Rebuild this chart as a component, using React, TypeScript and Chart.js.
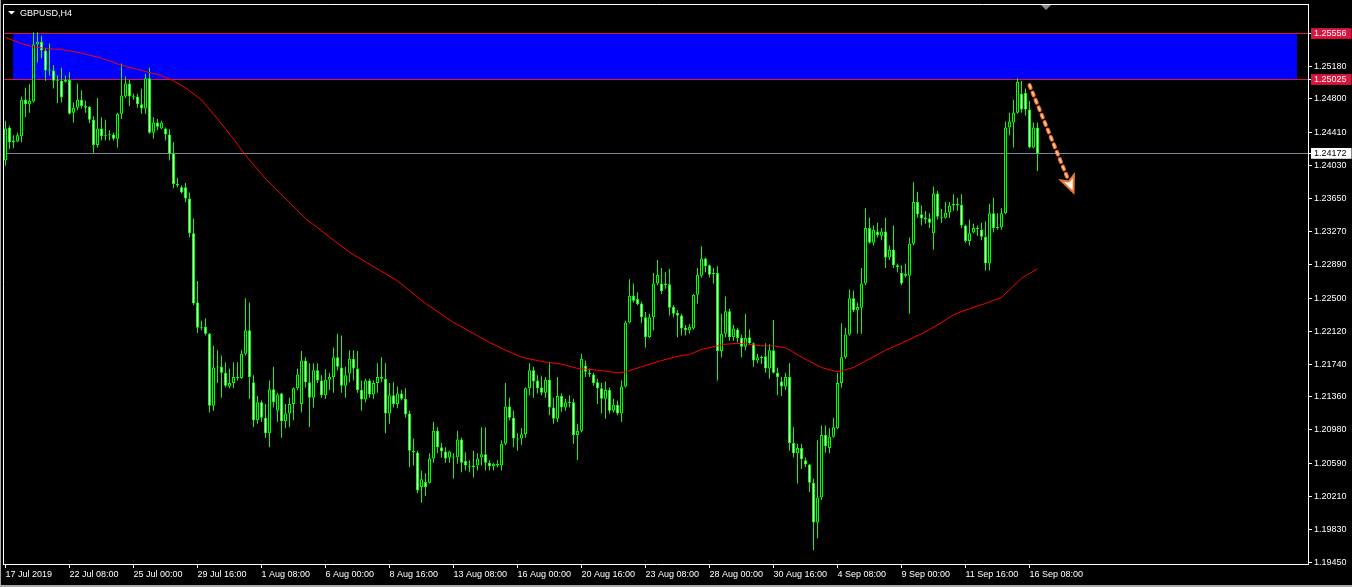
import React, { useEffect, useRef } from 'react';
import Chart from 'chart.js/auto';

const TITLE = 'GBPUSD,H4';

const OPEN = [
  1.2409,1.2447,1.2430,1.2431,1.2437,1.2479,1.2474,1.2477,1.2543,1.2546,
  1.2536,1.2513,1.2513,1.2501,1.2501,1.2502,1.2502,1.2464,1.2470,1.2479,
  1.2472,1.2471,1.2456,1.2427,1.2446,1.2437,1.2438,1.2439,1.2434,1.2463,
  1.2483,1.2498,1.2483,1.2483,1.2474,1.2469,1.2504,1.2441,1.2453,1.2446,
  1.2446,1.2439,1.2417,1.2382,1.2378,1.2378,1.2365,1.2325,1.2245,1.2216,
  1.2217,1.2209,1.2126,1.2170,1.2171,1.2164,1.2148,1.2152,1.2159,1.2158,
  1.2186,1.2213,1.2153,1.2109,1.2130,1.2112,1.2094,1.2145,1.2120,1.2140,
  1.2108,1.2117,1.2128,1.2146,1.2128,1.2178,1.2153,1.2135,1.2167,1.2155,
  1.2138,1.2156,1.2159,1.2182,1.2170,1.2149,1.2163,1.2180,1.2169,1.2144,
  1.2133,1.2155,1.2139,1.2152,1.2159,1.2157,1.2117,1.2138,1.2128,1.2140,
  1.2134,1.2117,1.2074,1.2072,1.2032,1.2038,1.2037,1.2065,1.2097,1.2078,
  1.2073,1.2066,1.2066,1.2066,1.2087,1.2062,1.2056,1.2055,1.2057,1.2066,
  1.2070,1.2060,1.2056,1.2059,1.2057,1.2082,1.2125,1.2112,1.2088,1.2088,
  1.2093,1.2146,1.2167,1.2155,1.2147,1.2141,1.2156,1.2124,1.2111,1.2137,
  1.2124,1.2130,1.2130,1.2092,1.2097,1.2172,1.2164,1.2162,1.2153,1.2146,
  1.2134,1.2144,1.2120,1.2127,1.2117,1.2148,1.2222,1.2253,1.2249,1.2244,
  1.2228,1.2205,1.2228,1.2267,1.2267,1.2265,1.2266,1.2240,1.2233,1.2230,
  1.2216,1.2213,1.2215,1.2254,1.2276,1.2296,1.2288,1.2278,1.2279,1.2189,
  1.2209,1.2235,1.2205,1.2214,1.2204,1.2194,1.2205,1.2198,1.2178,1.2182,
  1.2183,1.2169,1.2190,1.2164,1.2154,1.2148,1.2159,1.2083,1.2071,1.2077,
  1.2063,1.2058,1.2037,1.1991,1.2020,1.2092,1.2077,1.2090,1.2100,1.2152,
  1.2182,1.2208,1.2250,1.2236,1.2239,1.2267,1.2331,1.2314,1.2327,1.2322,
  1.2327,1.2297,1.2306,1.2288,1.2279,1.2278,1.2276,1.2313,1.2361,1.2347,
  1.2343,1.2342,1.2325,1.2371,1.2344,1.2343,1.2349,1.2357,1.2359,1.2358,
  1.2334,1.2316,1.2326,1.2331,1.2329,1.2321,1.2290,1.2348,1.2331,1.2332,
  1.2348,1.2447,1.2453,1.2464,1.2486,1.2487,1.2468,1.2424,1.2447,
];

const HIGH = [
  1.2455,1.2449,1.2438,1.2441,1.2483,1.2493,1.2497,1.2557,1.2557,1.2553,
  1.2539,1.2544,1.2519,1.2507,1.2516,1.2507,1.2511,1.2476,1.2498,1.2490,
  1.2478,1.2472,1.2460,1.2481,1.2459,1.2456,1.2444,1.2441,1.2464,1.2521,
  1.2506,1.2502,1.2486,1.2486,1.2492,1.2509,1.2516,1.2459,1.2457,1.2455,
  1.2447,1.2445,1.2430,1.2389,1.2380,1.2383,1.2372,1.2342,1.2270,1.2224,
  1.2227,1.2210,1.2195,1.2190,1.2184,1.2176,1.2169,1.2176,1.2176,1.2190,
  1.2250,1.2245,1.2161,1.2137,1.2132,1.2128,1.2155,1.2171,1.2141,1.2141,
  1.2128,1.2135,1.2147,1.2169,1.2189,1.2182,1.2175,1.2175,1.2175,1.2161,
  1.2168,1.2164,1.2193,1.2209,1.2207,1.2171,1.2190,1.2190,1.2189,1.2155,
  1.2157,1.2157,1.2155,1.2175,1.2182,1.2175,1.2152,1.2153,1.2148,1.2144,
  1.2146,1.2120,1.2088,1.2074,1.2051,1.2048,1.2071,1.2107,1.2101,1.2083,
  1.2078,1.2074,1.2071,1.2097,1.2089,1.2072,1.2063,1.2074,1.2071,1.2101,
  1.2101,1.2063,1.2060,1.2063,1.2086,1.2152,1.2135,1.2120,1.2094,1.2100,
  1.2147,1.2175,1.2171,1.2161,1.2160,1.2159,1.2175,1.2135,1.2159,1.2140,
  1.2134,1.2138,1.2134,1.2105,1.2186,1.2178,1.2169,1.2164,1.2157,1.2152,
  1.2154,1.2147,1.2134,1.2132,1.2155,1.2224,1.2272,1.2267,1.2257,1.2246,
  1.2234,1.2232,1.2279,1.2294,1.2285,1.2280,1.2284,1.2242,1.2236,1.2232,
  1.2219,1.2220,1.2255,1.2285,1.2310,1.2297,1.2289,1.2285,1.2287,1.2232,
  1.2252,1.2238,1.2219,1.2216,1.2208,1.2232,1.2214,1.2199,1.2186,1.2184,
  1.2198,1.2197,1.2225,1.2170,1.2159,1.2164,1.2175,1.2101,1.2082,1.2082,
  1.2066,1.2059,1.2042,1.2086,1.2103,1.2103,1.2100,1.2112,1.2164,1.2221,
  1.2216,1.2260,1.2259,1.2245,1.2285,1.2354,1.2343,1.2334,1.2337,1.2331,
  1.2343,1.2311,1.2334,1.2290,1.2288,1.2290,1.2320,1.2384,1.2373,1.2357,
  1.2351,1.2348,1.2379,1.2374,1.2353,1.2361,1.2361,1.2370,1.2366,1.2370,
  1.2335,1.2341,1.2336,1.2334,1.2337,1.2339,1.2359,1.2366,1.2348,1.2354,
  1.2454,1.2464,1.2479,1.2504,1.2501,1.2492,1.2478,1.2453,1.2453,
];

const LOW = [
  1.2403,1.2422,1.2423,1.2430,1.2430,1.2459,1.2464,1.2476,1.2522,1.2527,
  1.2501,1.2507,1.2492,1.2475,1.2476,1.2499,1.2462,1.2453,1.2467,1.2469,
  1.2464,1.2452,1.2418,1.2424,1.2432,1.2432,1.2432,1.2432,1.2424,1.2457,
  1.2481,1.2472,1.2479,1.2470,1.2463,1.2463,1.2440,1.2434,1.2444,1.2445,
  1.2432,1.2409,1.2377,1.2378,1.2371,1.2361,1.2320,1.2242,1.2210,1.2213,
  1.2207,1.2118,1.2120,1.2152,1.2135,1.2147,1.2146,1.2146,1.2155,1.2157,
  1.2184,1.2134,1.2101,1.2105,1.2107,1.2089,1.2078,1.2124,1.2107,1.2089,
  1.2100,1.2101,1.2109,1.2144,1.2118,1.2147,1.2101,1.2124,1.2152,1.2135,
  1.2134,1.2144,1.2141,1.2167,1.2141,1.2135,1.2153,1.2155,1.2141,1.2120,
  1.2130,1.2135,1.2134,1.2141,1.2153,1.2094,1.2105,1.2124,1.2123,1.2132,
  1.2112,1.2055,1.2057,1.2025,1.2014,1.2022,1.2036,1.2060,1.2071,1.2066,
  1.2060,1.2060,1.2042,1.2059,1.2049,1.2051,1.2049,1.2043,1.2051,1.2057,
  1.2051,1.2051,1.2051,1.2055,1.2051,1.2080,1.2109,1.2078,1.2074,1.2081,
  1.2089,1.2138,1.2135,1.2140,1.2138,1.2135,1.2115,1.2105,1.2107,1.2119,
  1.2120,1.2124,1.2082,1.2063,1.2095,1.2159,1.2159,1.2149,1.2128,1.2117,
  1.2111,1.2117,1.2118,1.2115,1.2107,1.2147,1.2221,1.2245,1.2242,1.2221,
  1.2193,1.2204,1.2213,1.2265,1.2255,1.2261,1.2230,1.2228,1.2205,1.2207,
  1.2207,1.2209,1.2214,1.2244,1.2274,1.2280,1.2274,1.2267,1.2155,1.2182,
  1.2205,1.2201,1.2201,1.2199,1.2182,1.2190,1.2196,1.2171,1.2175,1.2174,
  1.2164,1.2157,1.2163,1.2138,1.2137,1.2144,1.2074,1.2066,1.2036,1.2053,
  1.2055,1.2026,1.1959,1.1973,1.2017,1.2072,1.2071,1.2089,1.2099,1.2147,
  1.2180,1.2207,1.2234,1.2209,1.2209,1.2265,1.2313,1.2311,1.2320,1.2317,
  1.2285,1.2294,1.2285,1.2280,1.2265,1.2274,1.2232,1.2311,1.2343,1.2334,
  1.2336,1.2331,1.2306,1.2341,1.2337,1.2342,1.2343,1.2351,1.2351,1.2331,
  1.2314,1.2311,1.2325,1.2322,1.2317,1.2282,1.2282,1.2326,1.2329,1.2329,
  1.2347,1.2438,1.2424,1.2463,1.2464,1.2461,1.2423,1.2423,1.2397,
];

const CLOSE = [
  1.2446,1.2430,1.2432,1.2438,1.2479,1.2474,1.2478,1.2543,1.2546,1.2536,
  1.2513,1.2514,1.2501,1.2502,1.2482,1.2500,1.2463,1.2470,1.2479,1.2472,
  1.2470,1.2456,1.2427,1.2446,1.2437,1.2438,1.2439,1.2434,1.2463,1.2484,
  1.2498,1.2483,1.2482,1.2474,1.2469,1.2504,1.2441,1.2453,1.2448,1.2453,
  1.2439,1.2417,1.2382,1.2380,1.2372,1.2365,1.2325,1.2244,1.2216,1.2217,
  1.2209,1.2126,1.2170,1.2171,1.2164,1.2149,1.2152,1.2159,1.2158,1.2186,
  1.2213,1.2159,1.2109,1.2130,1.2112,1.2094,1.2145,1.2130,1.2139,1.2108,
  1.2117,1.2128,1.2146,1.2162,1.2178,1.2153,1.2135,1.2167,1.2155,1.2138,
  1.2156,1.2159,1.2182,1.2171,1.2149,1.2161,1.2180,1.2169,1.2144,1.2133,
  1.2155,1.2139,1.2152,1.2159,1.2157,1.2117,1.2138,1.2128,1.2140,1.2134,
  1.2116,1.2074,1.2072,1.2028,1.2041,1.2032,1.2065,1.2097,1.2078,1.2073,
  1.2065,1.2073,1.2067,1.2087,1.2060,1.2057,1.2055,1.2057,1.2065,1.2070,
  1.2060,1.2056,1.2059,1.2057,1.2082,1.2125,1.2112,1.2088,1.2087,1.2093,
  1.2146,1.2167,1.2154,1.2146,1.2141,1.2156,1.2124,1.2111,1.2137,1.2124,
  1.2130,1.2129,1.2092,1.2097,1.2180,1.2165,1.2162,1.2152,1.2146,1.2134,
  1.2144,1.2120,1.2127,1.2117,1.2148,1.2222,1.2253,1.2247,1.2243,1.2228,
  1.2205,1.2228,1.2267,1.2277,1.2258,1.2267,1.2239,1.2232,1.2230,1.2215,
  1.2213,1.2217,1.2254,1.2277,1.2296,1.2287,1.2277,1.2279,1.2189,1.2209,
  1.2235,1.2205,1.2215,1.2204,1.2194,1.2204,1.2198,1.2178,1.2182,1.2181,
  1.2169,1.2190,1.2164,1.2159,1.2148,1.2159,1.2083,1.2071,1.2077,1.2064,
  1.2058,1.2037,1.1991,1.2020,1.2092,1.2079,1.2090,1.2101,1.2152,1.2182,
  1.2208,1.2250,1.2236,1.2240,1.2267,1.2331,1.2314,1.2329,1.2323,1.2327,
  1.2297,1.2306,1.2288,1.2286,1.2267,1.2276,1.2313,1.2361,1.2347,1.2342,
  1.2341,1.2337,1.2371,1.2344,1.2343,1.2349,1.2357,1.2359,1.2357,1.2334,
  1.2316,1.2325,1.2331,1.2330,1.2321,1.2290,1.2348,1.2331,1.2332,1.2348,
  1.2447,1.2454,1.2464,1.2500,1.2468,1.2468,1.2424,1.2447,1.24172,
];

// Moving average (red line), read at these bar indices
const MA_BARS = [0, 4, 7, 11, 14, 19, 24, 29, 34, 39, 42, 45, 49, 53, 57, 60, 65, 75, 86, 98, 105, 112, 121, 125, 129, 134, 139, 143, 148, 153, 155, 159, 164, 168, 171, 174, 177, 180, 184, 189, 192, 195, 199, 204, 208, 212, 216, 220, 224, 229, 233, 237, 241, 245, 249, 254, 258];
const MA_VALUES = [1.2551, 1.2544, 1.2540, 1.2538, 1.2537, 1.2533, 1.2527, 1.2519, 1.2513, 1.2507, 1.2501, 1.2493, 1.2479, 1.2457, 1.2434, 1.2415, 1.2388, 1.2342, 1.2303, 1.2270, 1.2244, 1.2222, 1.2199, 1.2190, 1.2182, 1.2177, 1.2174, 1.2169, 1.2167, 1.2164, 1.2165, 1.2171, 1.2178, 1.2183, 1.2185, 1.2191, 1.2194, 1.2197, 1.2198, 1.2195, 1.2195, 1.2193, 1.2182, 1.2170, 1.2165, 1.2170, 1.2180, 1.2190, 1.2198, 1.2209, 1.2219, 1.2231, 1.2238, 1.2244, 1.2251, 1.2273, 1.2284];

const X_TICK_BARS = [0, 16, 32, 48, 64, 80, 96, 112, 128, 144, 160, 176, 192, 208, 224, 240, 256];
const X_TICK_LABELS = ['17 Jul 2019', '22 Jul 08:00', '25 Jul 00:00', '29 Jul 16:00', '1 Aug 08:00', '6 Aug 00:00', '8 Aug 16:00', '13 Aug 08:00', '16 Aug 00:00', '20 Aug 16:00', '23 Aug 08:00', '28 Aug 00:00', '30 Aug 16:00', '4 Sep 08:00', '9 Sep 00:00', '11 Sep 16:00', '16 Sep 08:00'];

const Y_TICKS = [1.25556, 1.25180, 1.25025, 1.24800, 1.24410, 1.24172, 1.24030, 1.23650, 1.23270, 1.22890, 1.22500, 1.22120, 1.21740, 1.21360, 1.20980, 1.20590, 1.20210, 1.19830, 1.19450];

const ZONE_TOP = 1.25556;
const ZONE_BOTTOM = 1.25025;
const ZONE_START_BAR = 1.875;
const ZONE_END_BAR = 322.875;
const BID_PRICE = 1.24172;
const ARROW_BARS = [256, 267];
const ARROW_PRICES = [1.2496, 1.2372];
const SHIFT_BAR = 260;

const Y_MIN = 1.19432;
const Y_MAX = 1.25885;
const X_MIN = -0.375;
const X_MAX = 325.625;

const W = 1352;
const H = 587;
const LEVEL_COLOR = '#DC143C';
const FONT = "'Liberation Sans', Arial, sans-serif";

function hline(ctx: CanvasRenderingContext2D, x0: number, y: number, x1: number) {
  ctx.beginPath();
  ctx.moveTo(x0, y);
  ctx.lineTo(x1, y);
  ctx.stroke();
}

const mtPlugin = {
  id: 'mt4look',
  beforeDraw(chart: any) {
    const ctx = chart.ctx as CanvasRenderingContext2D;
    ctx.save();
    ctx.fillStyle = '#000000';
    ctx.fillRect(0, 0, chart.width, chart.height);
    ctx.fillStyle = '#a8a8a8';
    ctx.fillRect(0, 0, 1, chart.height);
    ctx.fillRect(0, chart.height - 2, chart.width, 2);
    ctx.restore();
  },
  beforeDatasetsDraw(chart: any) {
    const ctx = chart.ctx as CanvasRenderingContext2D;
    const a = chart.chartArea;
    const xs = chart.scales.x;
    const ys = chart.scales.y;
    ctx.save();
    ctx.beginPath();
    ctx.rect(a.left, a.top, a.right - a.left, a.bottom - a.top);
    ctx.clip();
    const x0 = Math.round(xs.getPixelForValue(ZONE_START_BAR));
    const x1 = Math.round(xs.getPixelForValue(ZONE_END_BAR));
    const yt = Math.floor(ys.getPixelForValue(ZONE_TOP));
    const yb = Math.floor(ys.getPixelForValue(ZONE_BOTTOM));
    ctx.fillStyle = '#0000FF';
    ctx.fillRect(x0, yt, x1 - x0, yb - yt);
    ctx.lineWidth = 1;
    ctx.strokeStyle = LEVEL_COLOR;
    for (const lv of [ZONE_TOP, ZONE_BOTTOM]) {
      hline(ctx, a.left, Math.floor(ys.getPixelForValue(lv)) + 0.5, a.right);
    }
    ctx.strokeStyle = '#778899';
    hline(ctx, a.left, Math.floor(ys.getPixelForValue(BID_PRICE)) + 0.5, a.right);
    ctx.restore();
  },
  afterDatasetsDraw(chart: any) {
    const ctx = chart.ctx as CanvasRenderingContext2D;
    const xs = chart.scales.x;
    const ys = chart.scales.y;
    const ax0 = xs.getPixelForValue(ARROW_BARS[0]);
    const ay0 = ys.getPixelForValue(ARROW_PRICES[0]);
    const ax1 = xs.getPixelForValue(ARROW_BARS[1]);
    const ay1 = ys.getPixelForValue(ARROW_PRICES[1]);
    const dx = ax1 - ax0, dy = ay1 - ay0;
    const len = Math.hypot(dx, dy);
    const ux = dx / len, uy = dy / len;
    const headLen = 16, headW = 7;
    const bx = ax1 - ux * headLen, by = ay1 - uy * headLen;
    ctx.save();
    ctx.lineCap = 'round';
    ctx.setLineDash([3, 5]);
    ctx.strokeStyle = '#EC7A34';
    ctx.lineWidth = 4;
    ctx.beginPath(); ctx.moveTo(ax0, ay0); ctx.lineTo(bx, by); ctx.stroke();
    ctx.strokeStyle = '#FFC9A0';
    ctx.lineWidth = 1.5;
    ctx.beginPath(); ctx.moveTo(ax0, ay0); ctx.lineTo(bx, by); ctx.stroke();
    ctx.setLineDash([]);
    ctx.lineCap = 'butt';
    ctx.beginPath();
    ctx.moveTo(ax1, ay1);
    ctx.lineTo(bx - uy * headW, by + ux * headW);
    ctx.lineTo(bx + ux * 4, by + uy * 4);
    ctx.lineTo(bx + uy * headW, by - ux * headW);
    ctx.closePath();
    ctx.fillStyle = '#FFF3EA';
    ctx.fill();
    ctx.strokeStyle = '#EC7A34';
    ctx.lineWidth = 2;
    ctx.stroke();
    ctx.restore();
  },
  afterDraw(chart: any) {
    const ctx = chart.ctx as CanvasRenderingContext2D;
    const a = chart.chartArea;
    const xs = chart.scales.x;
    ctx.save();
    ctx.strokeStyle = '#FFFFFF';
    ctx.lineWidth = 1;
    ctx.beginPath();
    ctx.moveTo(a.left - 0.5, a.bottom + 1);
    ctx.lineTo(a.left - 0.5, a.top - 0.5);
    ctx.lineTo(a.right + 1, a.top - 0.5);
    ctx.stroke();
    // shift marker
    const sx = Math.round(xs.getPixelForValue(SHIFT_BAR));
    ctx.fillStyle = '#8a8a8a';
    ctx.beginPath();
    ctx.moveTo(sx - 5, a.top);
    ctx.lineTo(sx + 5, a.top);
    ctx.lineTo(sx, a.top + 5);
    ctx.closePath();
    ctx.fill();
    // title
    ctx.fillStyle = '#FFFFFF';
    ctx.beginPath();
    ctx.moveTo(8, 11);
    ctx.lineTo(15, 11);
    ctx.lineTo(11.5, 14.5);
    ctx.closePath();
    ctx.fill();
    ctx.font = '9px ' + FONT;
    ctx.textBaseline = 'alphabetic';
    ctx.textAlign = 'left';
    ctx.fillText(TITLE, 20, 16);
    ctx.restore();
  },
};

export default function App() {
  const ref = useRef<HTMLCanvasElement | null>(null);

  useEffect(() => {
    document.body.style.margin = '0';
    document.body.style.background = '#000';
    const canvas = ref.current;
    if (!canvas) return;
    Chart.defaults.font.family = FONT;
    Chart.defaults.font.size = 9;

    const bodies = OPEN.map((o, i) => ({ x: i, y: [o, CLOSE[i]] }));
    const wicks = HIGH.map((h, i) => ({ x: i, y: [LOW[i], h] }));
    const bodyFill = OPEN.map((o, i) => (CLOSE[i] >= o ? '#000000' : '#FFFFFF'));
    const ma = MA_BARS.map((b, i) => ({ x: b, y: MA_VALUES[i] }));
    const boxed = [ZONE_TOP, ZONE_BOTTOM, BID_PRICE];

    const chart = new Chart(canvas, {
      type: 'bar',
      data: {
        datasets: [
          {
            type: 'line',
            label: 'MA',
            data: ma as any,
            borderColor: '#FF0000',
            borderWidth: 1,
            pointRadius: 0,
            tension: 0,
            order: 0,
          } as any,
          {
            type: 'bar',
            label: 'body',
            data: bodies as any,
            backgroundColor: bodyFill,
            borderColor: '#00FF00',
            borderWidth: 1,
            borderSkipped: false,
            barThickness: 3,
            grouped: false,
            minBarLength: 1,
            inflateAmount: 0,
            order: 1,
          } as any,
          {
            type: 'bar',
            label: 'wick',
            data: wicks as any,
            backgroundColor: '#00FF00',
            borderWidth: 0,
            barThickness: 1,
            grouped: false,
            inflateAmount: 0,
            order: 2,
          } as any,
        ],
      },
      options: {
        animation: false,
        responsive: false,
        devicePixelRatio: 1,
        events: [],
        layout: { padding: { left: 4, top: 5, right: 0, bottom: 0 } },
        plugins: { legend: { display: false }, tooltip: { enabled: false } },
        scales: {
          x: {
            type: 'linear',
            min: X_MIN,
            max: X_MAX,
            offset: false,
            afterBuildTicks: (s: any) => {
              s.ticks = X_TICK_BARS.map((v) => ({ value: v }));
            },
            afterFit: (s: any) => {
              s.height = 23;
              s.paddingLeft = 0;
              s.paddingRight = 0;
            },
            grid: { offset: false, drawOnChartArea: false, drawTicks: true, tickLength: 4, color: '#FFFFFF' },
            border: { display: true, color: '#FFFFFF', width: 1 },
            ticks: {
              autoSkip: false,
              maxRotation: 0,
              minRotation: 0,
              align: 'start',
              padding: 1,
              color: '#FFFFFF',
              font: { family: FONT, size: 9 },
              callback: (v: any) => {
                const k = X_TICK_BARS.indexOf(Number(v));
                return k >= 0 ? X_TICK_LABELS[k] : '';
              },
            },
          } as any,
          y: {
            type: 'linear',
            position: 'right',
            min: Y_MIN,
            max: Y_MAX,
            afterBuildTicks: (s: any) => {
              s.ticks = Y_TICKS.map((v) => ({ value: v }));
            },
            afterFit: (s: any) => {
              s.width = 44;
              s.paddingTop = 0;
              s.paddingBottom = 0;
            },
            grid: { drawOnChartArea: false, drawTicks: true, tickLength: 4, color: '#FFFFFF' },
            border: { display: true, color: '#FFFFFF', width: 1 },
            ticks: {
              autoSkip: false,
              padding: 2,
              font: { family: FONT, size: 9 },
              color: (c: any) => (c.tick && c.tick.value === BID_PRICE ? '#000000' : '#FFFFFF'),
              showLabelBackdrop: (c: any) => !!c.tick && boxed.includes(c.tick.value),
              backdropColor: (c: any) => (c.tick && c.tick.value === BID_PRICE ? '#FFFFFF' : LEVEL_COLOR),
              backdropPadding: { left: 3, right: 5, top: 0, bottom: 0 },
              callback: (v: any) => Number(v).toFixed(5),
            },
          } as any,
        },
      },
      plugins: [mtPlugin],
    } as any);

    return () => {
      chart.destroy();
    };
  }, []);

  return (
    <div style={{ width: W, height: H, background: '#000' }}>
      <canvas ref={ref} width={W} height={H} style={{ display: 'block', width: W, height: H }} />
    </div>
  );
}
